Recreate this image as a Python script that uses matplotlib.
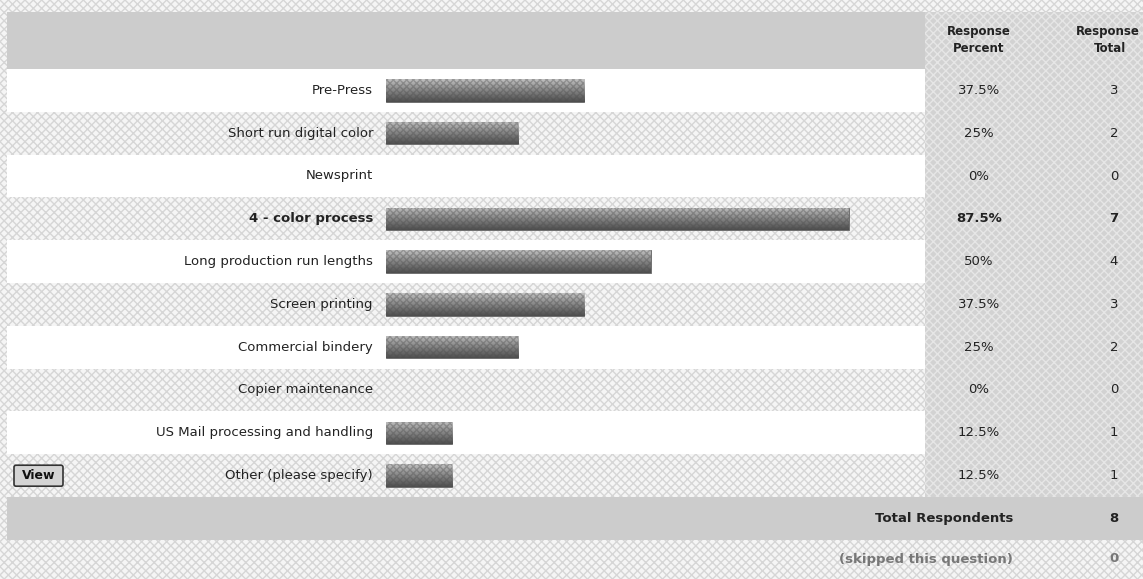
import numpy as np
from matplotlib import pyplot as plt
from matplotlib.patches import Rectangle, FancyBboxPatch

# Dữ liệu
labels = ['Pre-Press', 'Short run digital color', 'Newsprint', '4 - color process',
          'Long production run lengths', 'Screen printing', 'Commercial bindery',
          'Copier maintenance', 'US Mail processing and handling', 'Other (please specify)']
percents = [37.5, 25, 0, 87.5, 50, 37.5, 25, 0, 12.5, 12.5]
totals = [3, 2, 0, 7, 4, 3, 2, 0, 1, 1]
pct_text = ['37.5%', '25%', '0%', '87.5%', '50%', '37.5%', '25%', '0%', '12.5%', '12.5%']
total_respondents = 8
skipped = 0

W, H = 1143, 579
fig = plt.figure(figsize=(W / 100, H / 100), dpi=100)
ax = fig.add_axes([0, 0, 1, 1])
ax.set_xlim(0, W)
ax.set_ylim(H, 0)
ax.axis('off')

light_hatch = dict(facecolor='#f5f5f5', edgecolor='#d6d6d6', hatch='xxxx', linewidth=0)
dark_hatch = dict(facecolor='#d2d2d2', edgecolor='#e6e6e6', hatch='xxxx', linewidth=0)

# nền trang
ax.add_patch(Rectangle((0, 0), W, H, **light_hatch))

row_top, row_h = 69, 42.8
n = len(labels)
table_x0, col_x = 7, 925

# header
ax.add_patch(Rectangle((table_x0, 12), col_x - table_x0, row_top - 12, facecolor='#cccccc', linewidth=0))
ax.add_patch(Rectangle((col_x, 12), W - col_x, row_top - 12, **dark_hatch))
hdr = dict(ha='center', va='center', fontsize=8.5, fontweight='bold', color='#222222')
ax.text(979, 31, 'Response', **hdr)
ax.text(979, 48, 'Percent', **hdr)
ax.text(1108, 31, 'Response', **hdr)
ax.text(1110, 48, 'Total', **hdr)

# các hàng
for i, lab in enumerate(labels):
    y0 = row_top + i * row_h
    if i % 2 == 0:
        ax.add_patch(Rectangle((table_x0, y0), col_x - table_x0, row_h, facecolor='white', linewidth=0))
    ax.add_patch(Rectangle((col_x, y0), W - col_x, row_h, **dark_hatch))
    yc = y0 + row_h / 2
    bold = 'bold' if lab == '4 - color process' else 'normal'
    ax.text(373, yc, lab, ha='right', va='center', fontsize=9.5, fontweight=bold, color='#222222')
    ax.text(979, yc, pct_text[i], ha='center', va='center', fontsize=9.5, fontweight=bold, color='#222222')
    ax.text(1114, yc, str(totals[i]), ha='center', va='center', fontsize=9.5, fontweight=bold, color='#222222')

# nút View
y_other = row_top + 9 * row_h
ax.add_patch(FancyBboxPatch((14, y_other + 11), 49, 21, boxstyle='round,pad=0,rounding_size=2',
                            facecolor='#d4d4d4', edgecolor='#333333', linewidth=1.2))
ax.text(38.5, y_other + 21.5, 'View', ha='center', va='center', fontsize=9, fontweight='bold', color='#111111')

# Total Respondents
y_tot = row_top + n * row_h
ax.add_patch(Rectangle((table_x0, y_tot), W - table_x0, 43, facecolor='#cccccc', linewidth=0))
ax.text(1013, y_tot + 21.5, 'Total Respondents', ha='right', va='center', fontsize=9.5,
        fontweight='bold', color='#222222')
ax.text(1114, y_tot + 21.5, str(total_respondents), ha='center', va='center', fontsize=9.5,
        fontweight='bold', color='#222222')
ax.text(1013, y_tot + 62, '(skipped this question)', ha='right', va='center', fontsize=9.5,
        fontweight='bold', color='#777777')
ax.text(1114, y_tot + 62, str(skipped), ha='center', va='center', fontsize=9.5,
        fontweight='bold', color='#777777')

# trục cho các thanh
bx0, bw = 386, 529
bax = fig.add_axes([bx0 / W, 1 - (row_top + n * row_h) / H, bw / W, n * row_h / H])
bax.set_xlim(0, 100)
bax.set_ylim(n - 0.5, -0.5)
bax.axis('off')
bax.patch.set_alpha(0)
bars = bax.barh(range(n), percents, height=0.52, color='#777777', linewidth=0)
grad = np.linspace(0, 1, 64).reshape(-1, 1)
for b in bars:
    if b.get_width() == 0:
        b.set_visible(False)
        continue
    b.set_edgecolor('#666666')
    b.set_linewidth(0.6)
    x, y, w, h = b.get_x(), b.get_y(), b.get_width(), b.get_height()
    im = bax.imshow(grad, cmap='Greys', vmin=-0.9, vmax=1.6, aspect='auto',
                    extent=(x, x + w, y + h, y), zorder=3)
    im.set_clip_path(b)
    bax.add_patch(Rectangle((x, y), w, h, fill=False, hatch='xxxxx', edgecolor='#4a4a4a',
                            linewidth=0, alpha=0.35, zorder=4))
bax.set_xlim(0, 100)
bax.set_ylim(n - 0.5, -0.5)

fig.savefig('out.png', dpi=100)
